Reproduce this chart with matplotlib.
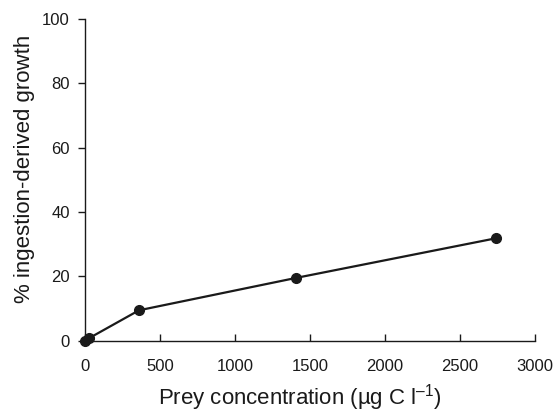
import matplotlib
matplotlib.use("Agg")
import matplotlib.pyplot as plt

prey_conc = [0, 30, 360, 1410, 2740]
growth_pct = [0, 0.8, 9.4, 19.5, 31.8]
xticks = [0, 500, 1000, 1500, 2000, 2500, 3000]
yticks = [0, 20, 40, 60, 80, 100]

plt.rcParams['font.family'] = ['Liberation Sans', 'DejaVu Sans']
plt.rcParams['mathtext.fontset'] = 'custom'
plt.rcParams['mathtext.rm'] = 'Liberation Sans'
plt.rcParams['mathtext.it'] = 'Liberation Sans'
plt.rcParams['mathtext.default'] = 'regular'

fig = plt.figure(figsize=(5.57, 4.12), dpi=100)
ax = fig.add_axes([0.1526, 0.1735, 0.9605 - 0.1526, 0.9539 - 0.1735])
ax.plot(prey_conc, growth_pct, color='#1a1a1a', lw=1.6, marker='o', ms=7, clip_on=False, zorder=3)
ax.set_xlim(0, 3000)
ax.set_ylim(0, 100)
ax.set_xticks(xticks)
ax.set_yticks(yticks)
for s in ['top', 'right']:
    ax.spines[s].set_visible(False)
for s in ['left', 'bottom']:
    ax.spines[s].set_linewidth(1.0)
    ax.spines[s].set_color('#1a1a1a')
ax.tick_params(axis='x', direction='in', length=5, width=1, labelsize=12, pad=13, colors='#1a1a1a')
ax.tick_params(axis='y', direction='out', length=5, width=1, labelsize=12, pad=6, colors='#1a1a1a')
ax.set_xlabel('Prey concentration (µg C l$^{\u2013 1}$)', fontsize=16, color='#1a1a1a')
ax.set_ylabel('% ingestion-derived growth', fontsize=16, color='#1a1a1a')
ax.xaxis.set_label_coords(0.478, -0.128)
ax.yaxis.set_label_coords(-0.11, 0.535)
fig.savefig('out.png', dpi=100)
